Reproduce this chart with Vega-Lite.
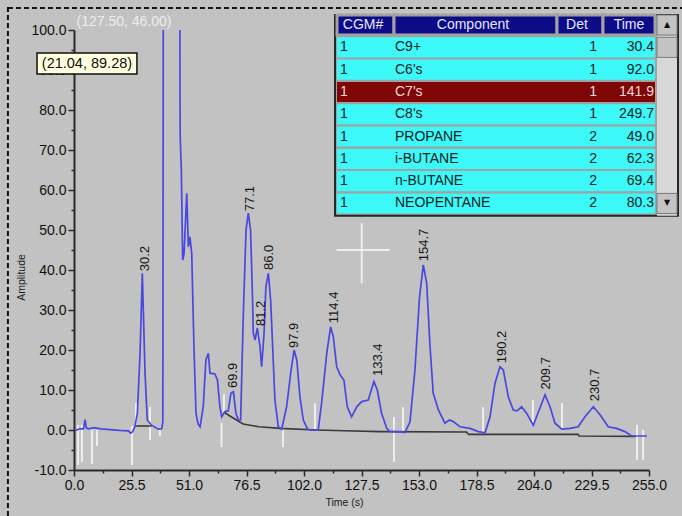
{
  "$schema": "https://vega.github.io/schema/vega-lite/v6.json",
  "width": 575,
  "height": 440,
  "autosize": {"type": "none"},
  "padding": {"left": 74, "top": 30, "right": 33, "bottom": 46},
  "background": "#c2c2c2",
  "config": {"view": {"stroke": null}, "font": "Liberation Sans"},
  "datasets": {
    "trace": [
      {"t": 0.4, "a": -0.2}, {"t": 2.5, "a": 0.3}, {"t": 4.2, "a": 0.3}, {"t": 4.9, "a": 2.6}, {"t": 5.5, "a": 0.5}, {"t": 6.5, "a": 0.3},
      {"t": 8.6, "a": 0.6}, {"t": 12, "a": 0.3}, {"t": 16, "a": 0.1}, {"t": 20, "a": -0.1}, {"t": 24.1, "a": -0.2}, {"t": 25.1, "a": -0.8},
      {"t": 26.0, "a": -0.4}, {"t": 27.0, "a": 0.8}, {"t": 28.1, "a": 4.2}, {"t": 29.3, "a": 19.2}, {"t": 30.3, "a": 39.2}, {"t": 31.5, "a": 14.2},
      {"t": 32.5, "a": 2.5}, {"t": 34.4, "a": 1.2}, {"t": 37.4, "a": 0.2}, {"t": 38.9, "a": 0.3}, {"t": 39.4, "a": 2}, {"t": 39.7, "a": 160},
      {"t": 46.8, "a": 160}, {"t": 47.0, "a": 87}, {"t": 47.1, "a": 73.3}, {"t": 47.6, "a": 65}, {"t": 48.2, "a": 42.5}, {"t": 48.8, "a": 44},
      {"t": 50.0, "a": 59.2}, {"t": 50.7, "a": 45.8}, {"t": 51.4, "a": 48.3}, {"t": 52.2, "a": 44.2}, {"t": 53.2, "a": 20.8}, {"t": 54.1, "a": 4.2},
      {"t": 55.0, "a": 1.5}, {"t": 55.9, "a": 0.8}, {"t": 57.3, "a": 5.8}, {"t": 58.5, "a": 17.5}, {"t": 59.6, "a": 19.2}, {"t": 60.3, "a": 14.2},
      {"t": 62.5, "a": 14}, {"t": 63.6, "a": 12.5}, {"t": 64.7, "a": 5.8}, {"t": 65.5, "a": 3.3}, {"t": 67, "a": 4.6}, {"t": 68.4, "a": 4.8},
      {"t": 69.6, "a": 9.2}, {"t": 70.7, "a": 9.6}, {"t": 71.8, "a": 4.2}, {"t": 72.9, "a": 2.5}, {"t": 73.9, "a": 2.5}, {"t": 75.1, "a": 29.2},
      {"t": 76.3, "a": 50}, {"t": 77.3, "a": 54.2}, {"t": 78.3, "a": 50}, {"t": 79.2, "a": 32.5}, {"t": 79.5, "a": 24.2}, {"t": 80.3, "a": 22.5},
      {"t": 81.3, "a": 25.5}, {"t": 82.5, "a": 20.8}, {"t": 83.2, "a": 15.8}, {"t": 84.3, "a": 24.2}, {"t": 85.1, "a": 35.8}, {"t": 86.2, "a": 39.2},
      {"t": 87.2, "a": 32.5}, {"t": 88.1, "a": 20.8}, {"t": 89.1, "a": 7.5}, {"t": 90.6, "a": 0.8}, {"t": 92.1, "a": 0.2}, {"t": 94.3, "a": 5.8},
      {"t": 96.1, "a": 14.2}, {"t": 97.6, "a": 20}, {"t": 98.8, "a": 17.5}, {"t": 100.2, "a": 8.3}, {"t": 101.7, "a": 2.5}, {"t": 103.5, "a": 0.3},
      {"t": 104.7, "a": 0}, {"t": 108.3, "a": 0}, {"t": 109.8, "a": 6.7}, {"t": 112.1, "a": 19.2}, {"t": 113.8, "a": 25.8}, {"t": 115, "a": 23.3},
      {"t": 116.5, "a": 15.8}, {"t": 118, "a": 13.8}, {"t": 119.7, "a": 12.5}, {"t": 121.2, "a": 5.8}, {"t": 123.1, "a": 3.3}, {"t": 125.4, "a": 5.8},
      {"t": 127.6, "a": 7.1}, {"t": 130.5, "a": 7.5}, {"t": 133, "a": 12.1}, {"t": 134.5, "a": 10}, {"t": 136.4, "a": 4.2}, {"t": 138.7, "a": 0.4},
      {"t": 140.1, "a": -0.4}, {"t": 143.1, "a": -0.4}, {"t": 146.8, "a": -0.6}, {"t": 149, "a": 2}, {"t": 151.2, "a": 15}, {"t": 153.2, "a": 33},
      {"t": 154.9, "a": 41.3}, {"t": 156.4, "a": 36.7}, {"t": 157.9, "a": 20.8}, {"t": 159.3, "a": 9.2}, {"t": 161.6, "a": 5}, {"t": 164.5, "a": 1.7},
      {"t": 166.5, "a": 2.5}, {"t": 168.2, "a": 2.1}, {"t": 171.2, "a": 0.8}, {"t": 175.6, "a": 0.4}, {"t": 179.3, "a": -0.4}, {"t": 182.3, "a": -0.7},
      {"t": 184.5, "a": 3.3}, {"t": 186.7, "a": 11.7}, {"t": 188.9, "a": 15.8}, {"t": 190.4, "a": 15}, {"t": 192.6, "a": 8.3}, {"t": 194.8, "a": 5},
      {"t": 196.5, "a": 4.8}, {"t": 198.5, "a": 5.8}, {"t": 200.7, "a": 4.2}, {"t": 203.7, "a": 1.2}, {"t": 206.3, "a": 5}, {"t": 208.9, "a": 8.8},
      {"t": 211.1, "a": 5.8}, {"t": 213.3, "a": 1.7}, {"t": 216.3, "a": 0.2}, {"t": 220, "a": 0.4}, {"t": 223.6, "a": 0.8}, {"t": 226.6, "a": 3.3},
      {"t": 230.3, "a": 5.8}, {"t": 233.3, "a": 3.8}, {"t": 236.9, "a": 0.8}, {"t": 240.6, "a": 0.4}, {"t": 244.3, "a": -0.4}, {"t": 247.3, "a": -1.5},
      {"t": 254, "a": -1.5}
    ],
    "baseline": [
      {"seg": "A", "t": 27.2, "a": 1.0}, {"seg": "A", "t": 34.4, "a": 1.0},
      {"seg": "B", "t": 66.5, "a": 4.5}, {"seg": "B", "t": 68.4, "a": 3.75}, {"seg": "B", "t": 75, "a": 1.5}, {"seg": "B", "t": 82, "a": 0.8},
      {"seg": "B", "t": 91.4, "a": 0.4}, {"seg": "B", "t": 107.5, "a": 0}, {"seg": "B", "t": 120, "a": -0.2}, {"seg": "B", "t": 135.7, "a": -0.4},
      {"seg": "B", "t": 174, "a": -0.5}, {"seg": "B", "t": 175, "a": -1.1}, {"seg": "B", "t": 223.6, "a": -1.1}, {"seg": "B", "t": 224, "a": -1.5},
      {"seg": "B", "t": 249, "a": -1.6}
    ],
    "markers": [
      {"t": 1.8, "a": 1.25, "a2": -8.75}, {"t": 3.5, "a": 1.25, "a2": -8}, {"t": 8.0, "a": 0, "a2": -8.5}, {"t": 10.2, "a": 0, "a2": -4},
      {"t": 25.7, "a": 1, "a2": -8.75}, {"t": 27.5, "a": 6.75, "a2": 0.75}, {"t": 33.7, "a": 5.75, "a2": -2.5}, {"t": 38.1, "a": 0, "a2": -1.5},
      {"t": 65.4, "a": 1.75, "a2": -4.25}, {"t": 66.5, "a": 9, "a2": 4}, {"t": 92.7, "a": 0.75, "a2": -4.25}, {"t": 106.9, "a": 6.75, "a2": 0},
      {"t": 141.9, "a": 3.25, "a2": -8}, {"t": 145.9, "a": 5.75, "a2": -0.75}, {"t": 181.4, "a": 5.75, "a2": -0.5}, {"t": 203.5, "a": 7.5, "a2": 1.75},
      {"t": 216.4, "a": 6.75, "a2": 0}, {"t": 249.7, "a": 1.25, "a2": -7.5}, {"t": 252.4, "a": 0, "a2": -7.5}
    ],
    "peaks": [
      {"t": 31.3, "a": 39.2, "label": "30.2"}, {"t": 70.7, "a": 10, "label": "69.9"}, {"t": 78.0, "a": 54.2, "label": "77.1"},
      {"t": 82.8, "a": 25.5, "label": "81.2"}, {"t": 86.5, "a": 39.5, "label": "86.0"}, {"t": 97.6, "a": 20, "label": "97.9"},
      {"t": 115.2, "a": 26.2, "label": "114.4"}, {"t": 134.6, "a": 13, "label": "133.4"}, {"t": 155.4, "a": 41.7, "label": "154.7"},
      {"t": 189.9, "a": 16.2, "label": "190.2"}, {"t": 209.2, "a": 9.6, "label": "209.7"}, {"t": 231, "a": 6.7, "label": "230.7"}
    ],
    "crosshair": [
      {"t": 116.5, "t2": 140, "a": 45, "a2": 45},
      {"t": 127.6, "t2": 127.6, "a": 36.7, "a2": 51.7}
    ],
    "cursorText": [{"t": 22.2, "a": 102, "label": "(127.50, 46.00)"}],
    "frame": [{"t": -29.3, "t2": 290, "a": 105.5, "a2": -35}],
    "tipBox": [{"t": -16.4, "t2": 27.9, "a": 94.25, "a2": 89}],
    "tipText": [{"t": 5.75, "a": 91.6, "label": "(21.04, 89.28)"}],
    "tableRows": [
      {"row": "h", "kind": "head", "cgm": "CGM#", "comp": "Component", "det": "Det", "time": "Time"},
      {"row": "1", "kind": "body", "cgm": "1", "comp": "C9+", "det": "1", "time": "30.4"},
      {"row": "2", "kind": "body", "cgm": "1", "comp": "C6's", "det": "1", "time": "92.0"},
      {"row": "3", "kind": "selected", "cgm": "1", "comp": "C7's", "det": "1", "time": "141.9"},
      {"row": "4", "kind": "body", "cgm": "1", "comp": "C8's", "det": "1", "time": "249.7"},
      {"row": "5", "kind": "body", "cgm": "1", "comp": "PROPANE", "det": "2", "time": "49.0"},
      {"row": "6", "kind": "body", "cgm": "1", "comp": "i-BUTANE", "det": "2", "time": "62.3"},
      {"row": "7", "kind": "body", "cgm": "1", "comp": "n-BUTANE", "det": "2", "time": "69.4"},
      {"row": "8", "kind": "body", "cgm": "1", "comp": "NEOPENTANE", "det": "2", "time": "80.3"}
    ],
    "columns": [
      {"col": "cgm", "left": 2, "right": 59, "mid": 28, "anchor": 5, "align": "left"},
      {"col": "comp", "left": 59, "right": 222, "mid": 138, "anchor": 60, "align": "left"},
      {"col": "det", "left": 222, "right": 268, "mid": 242, "anchor": 262, "align": "right"},
      {"col": "time", "left": 268, "right": 320, "mid": 294, "anchor": 319, "align": "right"},
      {"col": "scroll", "left": 322, "right": 342, "mid": 332, "anchor": 332, "align": "center"}
    ],
    "tableFrame": [{"row": "h", "row2": "end", "left": 0, "right": 343}],
    "scroll": [
      {"col": "scroll", "row": "h", "row2": "end", "part": "track", "glyph": ""},
      {"col": "scroll", "row": "h", "row2": "h", "part": "btn", "glyph": "▲"},
      {"col": "scroll", "row": "1", "row2": "1", "part": "thumb", "glyph": ""},
      {"col": "scroll", "row": "8", "row2": "8", "part": "btn", "glyph": "▼"}
    ]
  },
  "layer": [
    {
      "encoding": {
        "x": {
          "field": "t", "type": "quantitative",
          "scale": {"domain": [0, 255], "nice": false, "zero": false},
          "axis": {
            "title": "Time (s)",
            "values": [0, 12.75, 25.5, 38.25, 51, 63.75, 76.5, 89.25, 102, 114.75, 127.5, 140.25, 153, 165.75, 178.5, 191.25, 204, 216.75, 229.5, 242.25, 255],
            "labelExpr": "datum.value % 25.5 === 0 ? format(datum.value, '.1f') : ''",
            "tickSize": {"expr": "datum.value % 25.5 === 0 ? 6 : 3"},
            "grid": false, "labelOverlap": false, "labelFlush": false,
            "labelFontSize": 14, "labelColor": "#111111", "labelPadding": 2,
            "domainColor": "#2a2a2a", "domainWidth": 2, "tickColor": "#2a2a2a", "tickWidth": 1.5,
            "titleFontSize": 10.5, "titleFontWeight": "normal", "titleColor": "#1a1a1a", "titlePadding": 5, "titleX": 270
          }
        },
        "y": {
          "field": "a", "type": "quantitative",
          "scale": {"domain": [-10, 100], "nice": false, "zero": false},
          "axis": {
            "title": "Amplitude",
            "values": [-10, -5, 0, 5, 10, 15, 20, 25, 30, 35, 40, 45, 50, 55, 60, 65, 70, 75, 80, 85, 90, 95, 100],
            "labelExpr": "datum.value % 10 === 0 ? (datum.value < 0 ? '-' + format(-datum.value, '.1f') : format(datum.value, '.1f')) : ''",
            "tickSize": {"expr": "datum.value % 10 === 0 ? 6 : 3"},
            "grid": false, "labelOverlap": false, "labelFlush": false,
            "labelFontSize": 14, "labelColor": "#111111", "labelPadding": 2,
            "domainColor": "#2a2a2a", "domainWidth": 2, "tickColor": "#2a2a2a", "tickWidth": 1.5,
            "titleFontSize": 10.5, "titleFontWeight": "normal", "titleColor": "#1a1a1a", "titlePadding": 4, "titleY": 247
          }
        }
      },
      "layer": [
        {
          "data": {"name": "frame"},
          "mark": {"type": "rect", "fillOpacity": 0, "stroke": "#111111", "strokeWidth": 2, "strokeDash": [5, 3]},
          "encoding": {"x2": {"field": "t2"}, "y2": {"field": "a2"}}
        },
        {
          "data": {"name": "markers"},
          "mark": {"type": "rule", "color": "#f6f6f6", "strokeWidth": 2, "opacity": 0.85, "clip": true},
          "encoding": {"y2": {"field": "a2"}}
        },
        {
          "data": {"name": "baseline"},
          "mark": {"type": "line", "color": "#3a3a3a", "strokeWidth": 1.6, "clip": true},
          "encoding": {"detail": {"field": "seg"}}
        },
        {
          "data": {"name": "trace"},
          "mark": {"type": "line", "color": "#4848e0", "strokeWidth": 1.7, "clip": true},
          "encoding": {}
        },
        {
          "data": {"name": "crosshair"},
          "mark": {"type": "rule", "color": "#f2f2f2", "strokeWidth": 2, "opacity": 0.9},
          "encoding": {"x2": {"field": "t2"}, "y2": {"field": "a2"}}
        },
        {
          "data": {"name": "cursorText"},
          "mark": {"type": "text", "align": "center", "baseline": "middle", "fontSize": 14, "color": "#ececec"},
          "encoding": {"text": {"field": "label"}}
        },
        {
          "data": {"name": "peaks"},
          "mark": {"type": "text", "angle": 270, "align": "left", "baseline": "middle", "dx": 2, "fontSize": 13, "color": "#151515"},
          "encoding": {"text": {"field": "label"}}
        },
        {
          "data": {"name": "tipBox"},
          "mark": {"type": "rect", "fill": "#ffffe0", "stroke": "#111111", "strokeWidth": 1.5},
          "encoding": {"x2": {"field": "t2"}, "y2": {"field": "a2"}}
        },
        {
          "data": {"name": "tipText"},
          "mark": {"type": "text", "align": "center", "baseline": "middle", "fontSize": 14.5, "color": "#111111"},
          "encoding": {"text": {"field": "label"}}
        }
      ]
    },
    {
      "layer": [
        {
          "data": {"name": "tableFrame"},
          "mark": {"type": "rect", "fill": "#a2a2a2", "stroke": "#262626", "strokeWidth": 2},
          "encoding": {
            "x": {"field": "left", "type": "quantitative", "scale": {"type": "linear", "domain": [0, 343], "range": [261, 604], "nice": false, "zero": false}, "axis": null},
            "x2": {"field": "right"},
            "y": {"field": "row", "type": "ordinal", "bandPosition": 0, "scale": {"domain": ["h", "1", "2", "3", "4", "5", "6", "7", "8", "end"], "range": [-15, 205.8], "paddingInner": 0.1, "paddingOuter": 0}, "axis": null},
            "y2": {"field": "row2", "bandPosition": 0}
          }
        },
        {
          "data": {"name": "tableRows"},
          "transform": [
            {"fold": ["cgm", "comp", "det", "time"], "as": ["col", "text"]},
            {"lookup": "col", "from": {"data": {"name": "columns"}, "key": "col", "fields": ["left", "right", "mid", "anchor", "align"]}},
            {"filter": "datum.kind !== 'head'"}
          ],
          "mark": {"type": "rect"},
          "encoding": {
            "x": {"field": "left", "type": "quantitative", "scale": {"type": "linear", "domain": [0, 343], "range": [261, 604], "nice": false, "zero": false}, "axis": null},
            "x2": {"field": "right"},
            "y": {"field": "row", "type": "ordinal", "scale": {"domain": ["h", "1", "2", "3", "4", "5", "6", "7", "8", "end"], "range": [-15, 205.8], "paddingInner": 0.1, "paddingOuter": 0}, "axis": null},
            "fill": {"condition": {"test": "datum.kind === 'selected'", "value": "#7e0606"}, "value": "#3cf8f8"}
          }
        },
        {
          "data": {"name": "tableRows"},
          "transform": [
            {"fold": ["cgm", "comp", "det", "time"], "as": ["col", "text"]},
            {"lookup": "col", "from": {"data": {"name": "columns"}, "key": "col", "fields": ["left", "right", "mid", "anchor", "align"]}},
            {"filter": "datum.kind === 'head'"}
          ],
          "mark": {"type": "rect", "fill": "#0c0c88", "stroke": "#a2a2a2", "strokeWidth": 3},
          "encoding": {
            "x": {"field": "left", "type": "quantitative", "scale": {"type": "linear", "domain": [0, 343], "range": [261, 604], "nice": false, "zero": false}, "axis": null},
            "x2": {"field": "right"},
            "y": {"field": "row", "type": "ordinal", "scale": {"domain": ["h", "1", "2", "3", "4", "5", "6", "7", "8", "end"], "range": [-15, 205.8], "paddingInner": 0.1, "paddingOuter": 0}, "axis": null}
          }
        },
        {
          "data": {"name": "tableRows"},
          "transform": [
            {"fold": ["cgm", "comp", "det", "time"], "as": ["col", "text"]},
            {"lookup": "col", "from": {"data": {"name": "columns"}, "key": "col", "fields": ["left", "right", "mid", "anchor", "align"]}},
            {"filter": "datum.kind === 'head'"}
          ],
          "mark": {"type": "text", "align": "center", "baseline": "middle", "fontSize": 14, "color": "#e6e6ff"},
          "encoding": {
            "x": {"field": "mid", "type": "quantitative", "scale": {"type": "linear", "domain": [0, 343], "range": [261, 604], "nice": false, "zero": false}, "axis": null},
            "y": {"field": "row", "type": "ordinal", "scale": {"domain": ["h", "1", "2", "3", "4", "5", "6", "7", "8", "end"], "range": [-15, 205.8], "paddingInner": 0.1, "paddingOuter": 0}, "axis": null},
            "text": {"field": "text"}
          }
        },
        {
          "data": {"name": "tableRows"},
          "transform": [
            {"fold": ["cgm", "comp", "det", "time"], "as": ["col", "text"]},
            {"lookup": "col", "from": {"data": {"name": "columns"}, "key": "col", "fields": ["left", "right", "mid", "anchor", "align"]}},
            {"filter": "datum.kind !== 'head' && datum.align === 'left'"}
          ],
          "mark": {"type": "text", "align": "left", "baseline": "middle", "fontSize": 14},
          "encoding": {
            "x": {"field": "anchor", "type": "quantitative", "scale": {"type": "linear", "domain": [0, 343], "range": [261, 604], "nice": false, "zero": false}, "axis": null},
            "y": {"field": "row", "type": "ordinal", "scale": {"domain": ["h", "1", "2", "3", "4", "5", "6", "7", "8", "end"], "range": [-15, 205.8], "paddingInner": 0.1, "paddingOuter": 0}, "axis": null},
            "text": {"field": "text"},
            "color": {"condition": {"test": "datum.kind === 'selected'", "value": "#f6d6d6"}, "value": "#0a2424"}
          }
        },
        {
          "data": {"name": "tableRows"},
          "transform": [
            {"fold": ["cgm", "comp", "det", "time"], "as": ["col", "text"]},
            {"lookup": "col", "from": {"data": {"name": "columns"}, "key": "col", "fields": ["left", "right", "mid", "anchor", "align"]}},
            {"filter": "datum.kind !== 'head' && datum.align === 'right'"}
          ],
          "mark": {"type": "text", "align": "right", "baseline": "middle", "fontSize": 14},
          "encoding": {
            "x": {"field": "anchor", "type": "quantitative", "scale": {"type": "linear", "domain": [0, 343], "range": [261, 604], "nice": false, "zero": false}, "axis": null},
            "y": {"field": "row", "type": "ordinal", "scale": {"domain": ["h", "1", "2", "3", "4", "5", "6", "7", "8", "end"], "range": [-15, 205.8], "paddingInner": 0.1, "paddingOuter": 0}, "axis": null},
            "text": {"field": "text"},
            "color": {"condition": {"test": "datum.kind === 'selected'", "value": "#f6d6d6"}, "value": "#0a2424"}
          }
        },
        {
          "data": {"name": "scroll"},
          "transform": [
            {"lookup": "col", "from": {"data": {"name": "columns"}, "key": "col", "fields": ["left", "right", "mid"]}},
            {"filter": "datum.part === 'track'"}
          ],
          "mark": {"type": "rect", "fill": "#d8d8d8"},
          "encoding": {
            "x": {"field": "left", "type": "quantitative", "scale": {"type": "linear", "domain": [0, 343], "range": [261, 604], "nice": false, "zero": false}, "axis": null},
            "x2": {"field": "right"},
            "y": {"field": "row", "type": "ordinal", "bandPosition": 0, "scale": {"domain": ["h", "1", "2", "3", "4", "5", "6", "7", "8", "end"], "range": [-15, 205.8], "paddingInner": 0.1, "paddingOuter": 0}, "axis": null},
            "y2": {"field": "row2", "bandPosition": 0}
          }
        },
        {
          "data": {"name": "scroll"},
          "transform": [
            {"lookup": "col", "from": {"data": {"name": "columns"}, "key": "col", "fields": ["left", "right", "mid"]}},
            {"filter": "datum.part !== 'track'"}
          ],
          "mark": {"type": "rect", "fill": "#c4c4c4", "stroke": "#7a7a7a", "strokeWidth": 1},
          "encoding": {
            "x": {"field": "left", "type": "quantitative", "scale": {"type": "linear", "domain": [0, 343], "range": [261, 604], "nice": false, "zero": false}, "axis": null},
            "x2": {"field": "right"},
            "y": {"field": "row", "type": "ordinal", "scale": {"domain": ["h", "1", "2", "3", "4", "5", "6", "7", "8", "end"], "range": [-15, 205.8], "paddingInner": 0.1, "paddingOuter": 0}, "axis": null}
          }
        },
        {
          "data": {"name": "scroll"},
          "transform": [
            {"lookup": "col", "from": {"data": {"name": "columns"}, "key": "col", "fields": ["left", "right", "mid"]}},
            {"filter": "datum.part === 'btn'"}
          ],
          "mark": {"type": "text", "align": "center", "baseline": "middle", "fontSize": 8, "font": "DejaVu Sans", "color": "#111111"},
          "encoding": {
            "x": {"field": "mid", "type": "quantitative", "scale": {"type": "linear", "domain": [0, 343], "range": [261, 604], "nice": false, "zero": false}, "axis": null},
            "y": {"field": "row", "type": "ordinal", "scale": {"domain": ["h", "1", "2", "3", "4", "5", "6", "7", "8", "end"], "range": [-15, 205.8], "paddingInner": 0.1, "paddingOuter": 0}, "axis": null},
            "text": {"field": "glyph"}
          }
        }
      ]
    }
  ],
  "resolve": {"scale": {"x": "independent", "y": "independent"}}
}
